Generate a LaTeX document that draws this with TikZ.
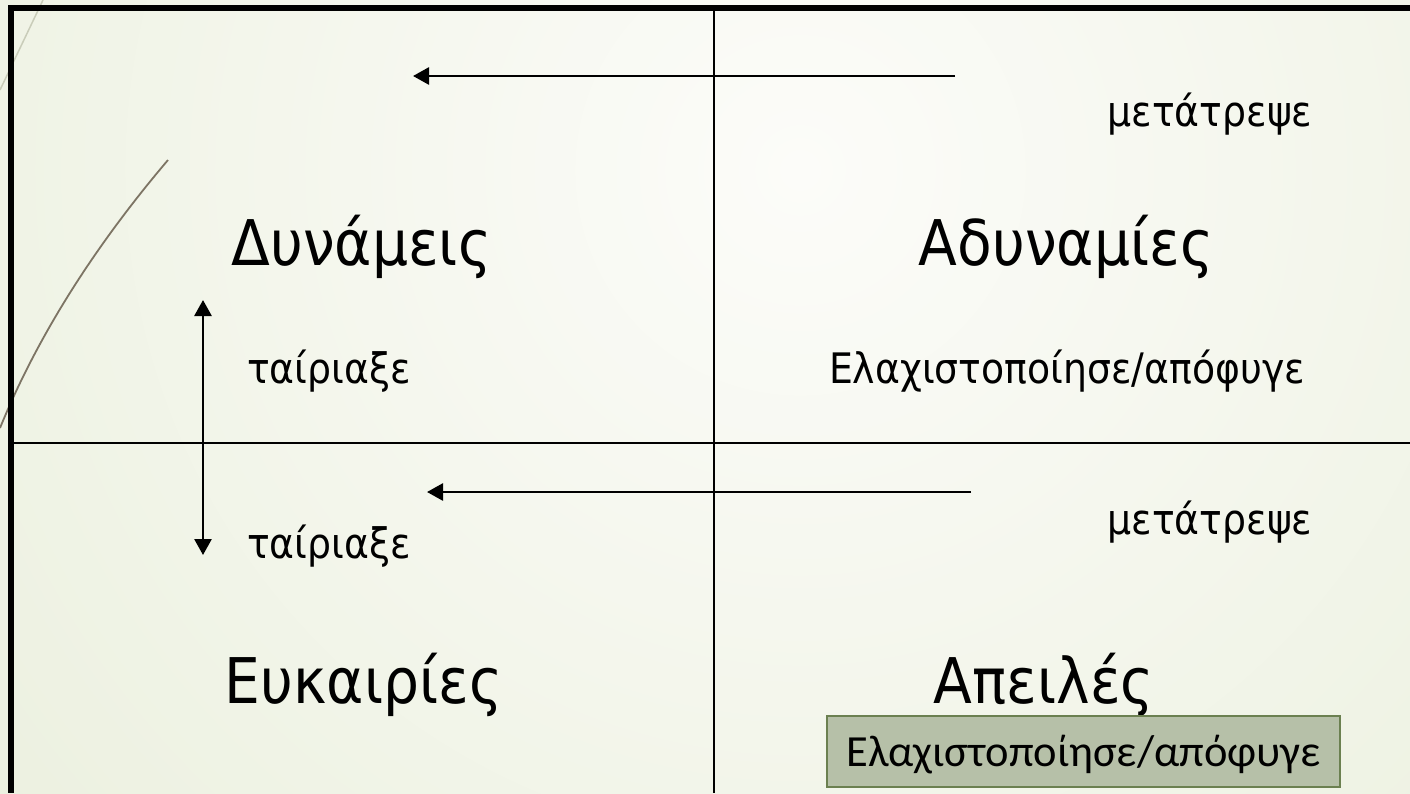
\documentclass[tikz,border=0pt]{standalone}
\usepackage{fontspec}
\usetikzlibrary{arrows.meta}
\newfontfamily\headfont[FakeStretch=0.9]{DejaVu Sans}
\newfontfamily\boxfont{Carlito}
\definecolor{bgin}{HTML}{FCFCF9}
\definecolor{bgout}{HTML}{E0E8CD}
\definecolor{swoosh}{HTML}{7D7464}
\definecolor{swooshlight}{HTML}{C9CCB9}
\definecolor{boxfill}{HTML}{B6C0A8}
\definecolor{boxedge}{HTML}{6B8050}
\begin{document}
\begin{tikzpicture}[x=1pt,y=-1pt,
  head/.style={font=\headfont\fontsize{63}{70}\selectfont, inner sep=0pt, anchor=base},
  lbl/.style={font=\headfont\fontsize{42}{50}\selectfont, inner sep=0pt, anchor=base},
  rule/.style={line width=2.7pt, black},
  frame/.style={line width=6pt, black},
  arr/.style={line width=2.7pt, -{Triangle[width=17pt,length=16pt]}},
  darr/.style={line width=2.7pt, {Triangle[width=17pt,length=16pt]}-{Triangle[width=17pt,length=16pt]}},
  actionbox/.style={draw=boxedge, line width=2pt, fill=boxfill,
    minimum width=513pt, minimum height=71pt, inner sep=0pt,
    text height=29pt, text depth=0pt,
    font=\boxfont\fontsize{44.5}{50}\selectfont},
]
\useasboundingbox (0,0) rectangle (1410,793);

% soft radial backdrop
\begin{scope}
  \clip (0,0) rectangle (1410,793);
  \shade[inner color=bgin, outer color=bgout] (800,170) circle (1800pt);
\end{scope}

% decorative swooshes at the left edge
\draw[swooshlight, line width=1.5pt] (43,0) -- (0,90);
\draw[swoosh, line width=1.8pt] (168,160) .. controls (100,240) and (40,330) .. (0,428);

% outer frame (top and left)
\coordinate (ftl) at (8,8);
\coordinate (ftr) at (1410,8);
\coordinate (flt) at (11,5);
\coordinate (flb) at (11,793);
\draw[frame] (ftl) -- (ftr);
\draw[frame] (flt) -- (flb);

% quadrant dividers
\coordinate (vt) at (714,8);
\coordinate (vb) at (714,793);
\coordinate (hl) at (14,443);
\coordinate (hr) at (1410,443);
\draw[rule] (vt) -- (vb);
\draw[rule] (hl) -- (hr);

% quadrant titles
\node[head] (str) at (361.5,265) {Δυνάμεις};
\node[head] (wea) at (1066,265) {Αδυναμίες};
\node[head] (opp) at (363.5,703) {Ευκαιρίες};
\node[head] (thr) at (1044,703) {Απειλές};

% action labels
\node[lbl] (conv1) at (1210,126) {μετάτρεψε};
\node[lbl] (match1) at (329,383) {ταίριαξε};
\node[lbl] (min1) at (1067,383) {Ελαχιστοποίησε/απόφυγε};
\node[lbl] (conv2) at (1210,534) {μετάτρεψε};
\node[lbl] (match2) at (329,558) {ταίριαξε};
\node[actionbox] (min2) at (1083.5,751.5) {Ελαχιστοποίησε/απόφυγε};

% arrows
\coordinate (a1s) at (955,76);
\coordinate (a1e) at (413,76);
\coordinate (a2s) at (971,492);
\coordinate (a2e) at (427,492);
\coordinate (m1) at (203,300);
\coordinate (m2) at (203,555);
\draw[arr] (a1s) -- (a1e);
\draw[arr] (a2s) -- (a2e);
\draw[darr] (m1) -- (m2);
\end{tikzpicture}
\end{document}
